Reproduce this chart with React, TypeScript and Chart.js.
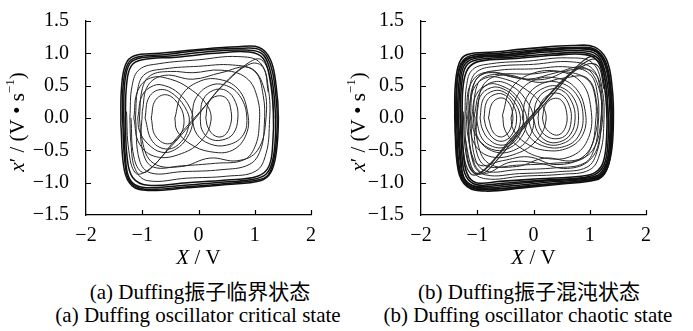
import React, { useEffect, useRef } from 'react';
import { Chart, registerables } from 'chart.js';

Chart.register(...registerables);

type Pt = [number, number];

// ---- axis ticks ----
const xTickValues = [-2, -1, 0, 1, 2];
const xTickLabels = ['\u22122', '\u22121', '0', '1', '2'];
const yTickValues = [-1.5, -1.0, -0.5, 0, 0.5, 1.0, 1.5];
const yTickLabels = ['\u22121.5', '\u22121.0', '\u22120.5', '0.0', '0.5', '1.0', '1.5'];

// ---- (a) critical state: trajectory pieces ----
const criticalOuterBand: Pt[][] = [
  [[-1.38, -0.1], [-1.37, 0.45], [-1.3, 0.82], [-1.15, 0.96], [-0.7, 1.0], [0.0, 1.06], [0.7, 1.1], [1.08, 1.09], [1.28, 0.9], [1.38, 0.5], [1.42, 0.0], [1.38, -0.55], [1.28, -0.85], [1.1, -0.97], [0.5, -1.03], [-0.2, -1.08], [-0.9, -1.12], [-1.18, -1.05], [-1.32, -0.8], [-1.38, -0.1]],
  [[-1.35, 0.0], [-1.34, 0.5], [-1.26, 0.83], [-1.1, 0.94], [-0.6, 0.98], [0.1, 1.05], [0.8, 1.08], [1.1, 1.05], [1.27, 0.85], [1.37, 0.4], [1.4, -0.1], [1.35, -0.6], [1.24, -0.88], [1.05, -0.96], [0.4, -1.02], [-0.3, -1.07], [-0.95, -1.1], [-1.2, -1.0], [-1.3, -0.75], [-1.35, 0.0]],
  [[-1.33, 0.05], [-1.31, 0.55], [-1.22, 0.84], [-1.02, 0.93], [-0.5, 0.96], [0.2, 1.03], [0.85, 1.05], [1.12, 1.0], [1.26, 0.78], [1.35, 0.3], [1.37, -0.2], [1.32, -0.65], [1.2, -0.87], [0.95, -0.95], [0.3, -1.0], [-0.4, -1.05], [-1.0, -1.07], [-1.22, -0.95], [-1.3, -0.6], [-1.33, 0.05]],
  [[-1.3, 0.0], [-1.28, 0.5], [-1.2, 0.8], [-1.0, 0.9], [-0.4, 0.94], [0.3, 1.0], [0.9, 1.02], [1.15, 0.92], [1.27, 0.6], [1.33, 0.1], [1.32, -0.4], [1.25, -0.75], [1.05, -0.9], [0.5, -0.96], [-0.2, -1.0], [-0.9, -1.04], [-1.17, -0.92], [-1.27, -0.6], [-1.3, 0.0]],
];

const criticalMiddleLoops: Pt[][] = [
  [[-1.22, 0.0], [-1.18, 0.5], [-1.05, 0.75], [-0.7, 0.84], [0.0, 0.9], [0.7, 0.95], [1.1, 0.85], [1.25, 0.4], [1.26, -0.1], [1.2, -0.55], [1.02, -0.82], [0.5, -0.9], [-0.2, -0.93], [-0.9, -0.97], [-1.12, -0.8], [-1.2, -0.4], [-1.22, 0.0]],
  [[-1.12, 0.0], [-1.08, 0.45], [-0.95, 0.68], [-0.6, 0.76], [0.0, 0.8], [0.6, 0.82], [1.0, 0.72], [1.15, 0.35], [1.17, -0.1], [1.1, -0.5], [0.9, -0.72], [0.4, -0.8], [-0.3, -0.83], [-0.85, -0.85], [-1.05, -0.65], [-1.12, 0.0]],
  [[-1.05, 0.0], [-1.0, 0.45], [-0.85, 0.66], [-0.5, 0.72], [-0.1, 0.7], [0.4, 0.74], [0.85, 0.62], [1.05, 0.3], [1.08, -0.1], [1.0, -0.45], [0.8, -0.65], [0.3, -0.7], [-0.3, -0.74], [-0.8, -0.76], [-0.98, -0.55], [-1.05, 0.0]],
  [[-1.0, 0.1], [-0.9, 0.5], [-0.6, 0.66], [-0.1, 0.6], [0.4, 0.7], [0.9, 0.78], [1.15, 0.5], [1.2, 0.0], [1.05, -0.5], [0.7, -0.66], [0.2, -0.62], [-0.3, -0.75], [-0.8, -0.7], [-1.0, -0.35], [-1.0, 0.1]],
];

const criticalDiagonals: Pt[][] = [
  [[-1.28, 0.1], [-1.24, -0.5], [-1.12, -0.85], [-0.92, -0.82], [-0.55, -0.5], [-0.05, 0.0], [0.42, 0.5], [0.9, 0.86], [1.12, 0.9], [1.28, 0.6], [1.34, 0.0]],
  [[-1.2, 0.0], [-1.15, -0.6], [-1.0, -0.84], [-0.8, -0.74], [-0.4, -0.32], [0.05, 0.12], [0.5, 0.56], [0.93, 0.84], [1.15, 0.78], [1.24, 0.4]],
];

const criticalLeftWell: Pt[][] = [
  [[-1.08, 0.0], [-1.0, 0.35], [-0.8, 0.5], [-0.6, 0.5], [-0.35, 0.38], [-0.15, 0.15], [-0.1, -0.05], [-0.2, -0.3], [-0.4, -0.48], [-0.65, -0.53], [-0.9, -0.4], [-1.05, -0.2], [-1.08, 0.0]],
  [[-0.95, 0.0], [-0.88, 0.32], [-0.67, 0.44], [-0.42, 0.35], [-0.2, 0.1], [-0.17, -0.1], [-0.3, -0.36], [-0.55, -0.48], [-0.82, -0.36], [-0.95, 0.0]],
  [[-0.84, 0.0], [-0.77, 0.27], [-0.58, 0.36], [-0.38, 0.24], [-0.26, 0.0], [-0.33, -0.27], [-0.55, -0.4], [-0.77, -0.27], [-0.84, 0.0]],
  [[-1.15, 0.0], [-1.08, 0.42], [-0.85, 0.62], [-0.5, 0.6], [-0.15, 0.45], [0.15, 0.2], [0.22, -0.05], [0.05, -0.35], [-0.3, -0.55], [-0.75, -0.6], [-1.05, -0.4], [-1.15, 0.0]],
];

const criticalRightWell: Pt[][] = [
  [[-0.42, 0.0], [-0.3, 0.35], [0.0, 0.56], [0.35, 0.6], [0.7, 0.45], [0.87, 0.1], [0.85, -0.25], [0.6, -0.5], [0.2, -0.52], [-0.15, -0.4], [-0.38, -0.2], [-0.42, 0.0]],
  [[-0.12, 0.0], [-0.05, 0.3], [0.2, 0.5], [0.5, 0.5], [0.75, 0.32], [0.86, 0.0], [0.78, -0.28], [0.5, -0.42], [0.2, -0.4], [-0.03, -0.25], [-0.12, 0.0]],
  [[0.03, 0.0], [0.08, 0.28], [0.27, 0.43], [0.5, 0.42], [0.66, 0.24], [0.7, 0.0], [0.62, -0.24], [0.42, -0.34], [0.2, -0.32], [0.06, -0.18], [0.03, 0.0]],
  [[0.13, 0.0], [0.18, 0.24], [0.33, 0.34], [0.5, 0.3], [0.58, 0.1], [0.57, -0.1], [0.46, -0.27], [0.3, -0.28], [0.17, -0.15], [0.13, 0.0]],
];

// ---- (b) chaotic state ----
const chaoticOuterBand: Pt[][] = [
  [[-1.4, 0.0], [-1.39, 0.5], [-1.32, 0.85], [-1.18, 0.98], [-0.7, 1.02], [0.0, 1.08], [0.7, 1.12], [1.08, 1.1], [1.3, 0.9], [1.4, 0.45], [1.42, -0.05], [1.38, -0.55], [1.27, -0.85], [1.1, -0.96], [0.5, -1.02], [-0.2, -1.08], [-0.85, -1.13], [-1.18, -1.06], [-1.34, -0.8], [-1.4, 0.0]],
  [[-1.37, 0.05], [-1.36, 0.55], [-1.29, 0.84], [-1.13, 0.96], [-0.6, 1.0], [0.1, 1.06], [0.75, 1.09], [1.1, 1.06], [1.29, 0.85], [1.38, 0.4], [1.4, -0.1], [1.36, -0.6], [1.25, -0.87], [1.05, -0.95], [0.4, -1.01], [-0.3, -1.07], [-0.9, -1.1], [-1.18, -1.02], [-1.32, -0.75], [-1.37, 0.05]],
  [[-1.35, 0.0], [-1.33, 0.5], [-1.26, 0.82], [-1.08, 0.94], [-0.5, 0.98], [0.2, 1.04], [0.8, 1.07], [1.12, 1.02], [1.28, 0.8], [1.36, 0.35], [1.38, -0.15], [1.33, -0.62], [1.22, -0.86], [1.0, -0.94], [0.3, -0.99], [-0.4, -1.05], [-0.95, -1.08], [-1.2, -0.98], [-1.3, -0.7], [-1.35, 0.0]],
  [[-1.33, -0.05], [-1.31, 0.45], [-1.24, 0.8], [-1.05, 0.92], [-0.45, 0.96], [0.25, 1.02], [0.85, 1.04], [1.14, 0.97], [1.27, 0.72], [1.35, 0.25], [1.36, -0.2], [1.31, -0.65], [1.18, -0.86], [0.95, -0.93], [0.25, -0.97], [-0.5, -1.03], [-1.0, -1.06], [-1.22, -0.95], [-1.29, -0.65], [-1.33, -0.05]],
  [[-1.3, 0.0], [-1.28, 0.5], [-1.2, 0.8], [-1.0, 0.9], [-0.4, 0.94], [0.3, 0.99], [0.9, 1.01], [1.15, 0.92], [1.26, 0.65], [1.32, 0.2], [1.33, -0.25], [1.28, -0.66], [1.14, -0.85], [0.9, -0.92], [0.2, -0.96], [-0.55, -1.01], [-1.02, -1.03], [-1.2, -0.9], [-1.27, -0.6], [-1.3, 0.0]],
  [[-1.27, 0.05], [-1.25, 0.5], [-1.16, 0.77], [-0.95, 0.88], [-0.3, 0.92], [0.35, 0.97], [0.92, 0.98], [1.14, 0.88], [1.24, 0.6], [1.3, 0.15], [1.3, -0.3], [1.24, -0.68], [1.1, -0.84], [0.85, -0.9], [0.1, -0.94], [-0.6, -0.98], [-1.02, -1.0], [-1.18, -0.86], [-1.25, -0.5], [-1.27, 0.05]],
  [[-1.39, -0.2], [-1.37, 0.4], [-1.3, 0.8], [-1.14, 0.93], [-0.55, 0.97], [0.15, 1.05], [0.9, 1.08], [1.16, 1.0], [1.32, 0.7], [1.39, 0.2], [1.38, -0.35], [1.3, -0.75], [1.16, -0.92], [0.7, -0.99], [0.0, -1.04], [-0.7, -1.1], [-1.1, -1.08], [-1.3, -0.88], [-1.39, -0.2]],
];

const chaoticMiddleLoops: Pt[][] = [
  [[-1.22, 0.0], [-1.19, 0.5], [-1.08, 0.75], [-0.75, 0.84], [-0.1, 0.88], [0.6, 0.93], [1.05, 0.85], [1.22, 0.45], [1.25, -0.1], [1.18, -0.55], [1.0, -0.8], [0.5, -0.87], [-0.2, -0.9], [-0.85, -0.94], [-1.1, -0.8], [-1.2, -0.4], [-1.22, 0.0]],
  [[-1.17, 0.0], [-1.13, 0.5], [-1.0, 0.72], [-0.65, 0.8], [0.0, 0.83], [0.65, 0.87], [1.05, 0.76], [1.19, 0.4], [1.2, -0.1], [1.13, -0.52], [0.95, -0.76], [0.45, -0.83], [-0.25, -0.86], [-0.85, -0.88], [-1.07, -0.7], [-1.17, 0.0]],
  [[-1.12, 0.0], [-1.08, 0.45], [-0.95, 0.66], [-0.6, 0.74], [0.0, 0.76], [0.6, 0.79], [1.0, 0.68], [1.14, 0.35], [1.15, -0.1], [1.08, -0.48], [0.9, -0.7], [0.4, -0.77], [-0.3, -0.8], [-0.85, -0.82], [-1.04, -0.62], [-1.12, 0.0]],
  [[-1.07, 0.0], [-1.03, 0.42], [-0.9, 0.62], [-0.55, 0.68], [-0.05, 0.68], [0.5, 0.72], [0.95, 0.6], [1.1, 0.3], [1.1, -0.1], [1.03, -0.44], [0.85, -0.64], [0.35, -0.7], [-0.3, -0.73], [-0.82, -0.75], [-1.0, -0.56], [-1.07, 0.0]],
  [[-1.15, 0.1], [-1.05, 0.55], [-0.8, 0.7], [-0.3, 0.62], [0.2, 0.6], [0.7, 0.75], [1.08, 0.7], [1.22, 0.3], [1.18, -0.3], [1.0, -0.65], [0.6, -0.78], [0.1, -0.7], [-0.4, -0.68], [-0.9, -0.85], [-1.12, -0.5], [-1.15, 0.1]],
  [[-1.2, 0.1], [-1.12, 0.52], [-0.88, 0.7], [-0.4, 0.66], [0.1, 0.55], [0.55, 0.62], [0.95, 0.62], [1.12, 0.25], [1.1, -0.25], [0.88, -0.6], [0.4, -0.72], [-0.1, -0.6], [-0.55, -0.66], [-0.98, -0.72], [-1.15, -0.35], [-1.2, 0.1]],
  [[-1.0, 0.1], [-0.9, 0.5], [-0.6, 0.66], [-0.1, 0.6], [0.4, 0.7], [0.9, 0.78], [1.15, 0.5], [1.2, 0.0], [1.05, -0.5], [0.7, -0.66], [0.2, -0.62], [-0.3, -0.75], [-0.8, -0.7], [-1.0, -0.35], [-1.0, 0.1]],
];

const chaoticDiagonals: Pt[][] = [
  [[-1.3, 0.2], [-1.25, -0.5], [-1.12, -0.86], [-0.92, -0.84], [-0.55, -0.5], [-0.05, 0.0], [0.42, 0.5], [0.9, 0.85], [1.12, 0.9], [1.27, 0.6], [1.33, 0.0]],
  [[-1.25, 0.1], [-1.2, -0.55], [-1.06, -0.85], [-0.84, -0.77], [-0.42, -0.34], [0.05, 0.12], [0.5, 0.55], [0.92, 0.82], [1.15, 0.8], [1.25, 0.45]],
  [[-1.22, -0.3], [-1.08, -0.8], [-0.9, -0.86], [-0.6, -0.6], [-0.12, -0.1], [0.38, 0.4], [0.85, 0.86], [1.1, 0.95], [1.28, 0.7]],
];

const chaoticLeftWell: Pt[][] = [
  [[-1.1, 0.0], [-1.02, 0.36], [-0.8, 0.52], [-0.58, 0.5], [-0.32, 0.36], [-0.16, 0.12], [-0.12, -0.08], [-0.22, -0.3], [-0.42, -0.46], [-0.67, -0.5], [-0.93, -0.38], [-1.07, -0.18], [-1.1, 0.0]],
  [[-1.02, 0.0], [-0.95, 0.33], [-0.75, 0.47], [-0.54, 0.45], [-0.33, 0.31], [-0.19, 0.08], [-0.19, -0.11], [-0.3, -0.33], [-0.5, -0.45], [-0.73, -0.44], [-0.92, -0.31], [-1.02, 0.0]],
  [[-0.95, 0.0], [-0.89, 0.3], [-0.71, 0.42], [-0.52, 0.4], [-0.35, 0.26], [-0.24, 0.05], [-0.26, -0.16], [-0.39, -0.36], [-0.58, -0.42], [-0.78, -0.34], [-0.91, -0.17], [-0.95, 0.0]],
  [[-0.88, 0.0], [-0.83, 0.26], [-0.67, 0.37], [-0.5, 0.35], [-0.36, 0.2], [-0.3, 0.0], [-0.36, -0.22], [-0.51, -0.35], [-0.69, -0.33], [-0.83, -0.17], [-0.88, 0.0]],
  [[-0.8, 0.0], [-0.74, 0.22], [-0.6, 0.31], [-0.46, 0.26], [-0.37, 0.06], [-0.41, -0.17], [-0.55, -0.29], [-0.71, -0.23], [-0.8, 0.0]],
  [[-1.05, 0.05], [-0.95, 0.4], [-0.7, 0.56], [-0.4, 0.5], [-0.15, 0.3], [0.0, 0.0], [-0.08, -0.3], [-0.35, -0.5], [-0.7, -0.52], [-0.98, -0.32], [-1.05, 0.05]],
  [[-1.15, 0.0], [-1.08, 0.42], [-0.85, 0.62], [-0.5, 0.6], [-0.15, 0.45], [0.15, 0.2], [0.22, -0.05], [0.05, -0.35], [-0.3, -0.55], [-0.75, -0.6], [-1.05, -0.4], [-1.15, 0.0]],
];

const chaoticRightWell: Pt[][] = [
  [[-0.4, 0.0], [-0.28, 0.36], [0.0, 0.58], [0.4, 0.62], [0.75, 0.46], [0.92, 0.1], [0.88, -0.25], [0.62, -0.46], [0.2, -0.5], [-0.15, -0.38], [-0.36, -0.18], [-0.4, 0.0]],
  [[-0.2, 0.0], [-0.12, 0.32], [0.12, 0.52], [0.45, 0.55], [0.75, 0.38], [0.88, 0.05], [0.8, -0.28], [0.55, -0.44], [0.2, -0.44], [-0.08, -0.28], [-0.2, 0.0]],
  [[-0.1, 0.0], [-0.03, 0.3], [0.2, 0.47], [0.48, 0.48], [0.72, 0.3], [0.8, 0.0], [0.72, -0.26], [0.5, -0.4], [0.22, -0.4], [0.0, -0.24], [-0.1, 0.0]],
  [[0.0, 0.0], [0.06, 0.27], [0.25, 0.43], [0.5, 0.43], [0.68, 0.25], [0.74, 0.0], [0.66, -0.25], [0.46, -0.37], [0.24, -0.36], [0.07, -0.21], [0.0, 0.0]],
  [[0.08, 0.0], [0.13, 0.23], [0.3, 0.37], [0.5, 0.36], [0.64, 0.18], [0.67, -0.04], [0.59, -0.25], [0.42, -0.32], [0.23, -0.28], [0.11, -0.15], [0.08, 0.0]],
  [[0.16, 0.0], [0.21, 0.2], [0.35, 0.3], [0.5, 0.27], [0.59, 0.08], [0.57, -0.14], [0.45, -0.26], [0.3, -0.23], [0.19, -0.11], [0.16, 0.0]],
  [[-0.55, 0.05], [-0.4, 0.45], [-0.05, 0.68], [0.45, 0.72], [0.85, 0.55], [1.02, 0.15], [0.98, -0.3], [0.7, -0.58], [0.2, -0.62], [-0.25, -0.45], [-0.5, -0.2], [-0.55, 0.05]],
];

// ---- captions ----
const captionA = ['(a) Duffing振子临界状态', '(a) Duffing oscillator critical state'];
const captionB = ['(b) Duffing振子混沌状态', '(b) Duffing oscillator chaotic state'];

const CANVAS_SERIF = '"Liberation Serif", "Times New Roman", serif';
const HTML_SERIF = '"Liberation Serif", "Times New Roman", "Noto Sans CJK SC", serif';

type Run = { t: string; italic?: boolean; size?: number; dy?: number };

function drawRuns(ctx: CanvasRenderingContext2D, runs: Run[], cx: number, cy: number, base: number) {
  const fontOf = (r: Run) => `${r.italic ? 'italic ' : ''}${r.size ?? base}px ${CANVAS_SERIF}`;
  let total = 0;
  for (const r of runs) {
    ctx.font = fontOf(r);
    total += ctx.measureText(r.t).width;
  }
  let x = cx - total / 2;
  ctx.textBaseline = 'middle';
  ctx.textAlign = 'left';
  for (const r of runs) {
    ctx.font = fontOf(r);
    ctx.fillText(r.t, x, cy + (r.dy ?? 0));
    x += ctx.measureText(r.t).width;
  }
}

const decorPlugin = {
  id: 'decor',
  afterDraw(chart: any, _args: any, opts: any) {
    const { ctx, chartArea } = chart;
    const xs = chart.scales.x;
    const ys = chart.scales.y;
    ctx.save();
    ctx.strokeStyle = '#000';
    ctx.lineWidth = 1.2;
    ctx.beginPath();
    xTickValues.forEach((v) => {
      if (v === xTickValues[0]) return;
      const p = Math.round(xs.getPixelForValue(v)) + 0.5;
      ctx.moveTo(p, chartArea.bottom);
      ctx.lineTo(p, chartArea.bottom - 5);
    });
    yTickValues.forEach((v) => {
      if (v === yTickValues[0]) return;
      const p = Math.round(ys.getPixelForValue(v)) + 0.5;
      ctx.moveTo(chartArea.left, p);
      ctx.lineTo(chartArea.left + 5, p);
    });
    ctx.stroke();
    ctx.fillStyle = '#000';
    drawRuns(ctx, [{ t: 'X', italic: true }, { t: ' / V' }], (chartArea.left + chartArea.right) / 2, opts.xTitleY, 21);
    ctx.translate(opts.yTitleX, (chartArea.top + chartArea.bottom) / 2 + 4);
    ctx.rotate(-Math.PI / 2);
    drawRuns(
      ctx,
      [
        { t: 'x', italic: true },
        { t: '\u2032 / (V \u2022 s' },
        { t: '\u22121', size: 13, dy: -7 },
        { t: ')' },
      ],
      0,
      0,
      21
    );
    ctx.restore();
  },
};

function buildDatasets(groups: { loops: Pt[][]; width: number; color: string }[]) {
  const ds: any[] = [];
  groups.forEach((g) => {
    g.loops.forEach((loop) => {
      ds.push({
        data: loop.map(([x, y]) => ({ x, y })),
        showLine: true,
        pointRadius: 0,
        borderColor: g.color,
        borderWidth: g.width,
        tension: 0.4,
        fill: false,
      });
    });
  });
  return ds;
}

function PhaseChart(props: {
  width: number;
  height: number;
  yAxisWidth: number;
  padRight: number;
  yTitleX: number;
  groups: { loops: Pt[][]; width: number; color: string }[];
}) {
  const ref = useRef<HTMLCanvasElement | null>(null);
  useEffect(() => {
    if (!ref.current) return;
    const tickFont = { family: CANVAS_SERIF, size: 20 };
    const chart = new Chart(ref.current, {
      type: 'scatter',
      data: { datasets: buildDatasets(props.groups) },
      options: {
        animation: false,
        responsive: false,
        maintainAspectRatio: false,
        events: [],
        layout: { padding: { left: 0, right: props.padRight, top: 17, bottom: 0 } },
        plugins: {
          legend: { display: false },
          tooltip: { enabled: false },
          decor: { xTitleY: 258, yTitleX: props.yTitleX },
        } as any,
        scales: {
          x: {
            type: 'linear',
            min: -2,
            max: 2,
            afterBuildTicks: (s: any) => {
              s.ticks = xTickValues.map((v) => ({ value: v }));
            },
            afterFit: (s: any) => {
              s.height = props.height - 215;
            },
            grid: { display: false },
            border: { display: true, color: '#000', width: 1.3 },
            ticks: {
              color: '#000',
              font: tickFont,
              padding: 1,
              maxRotation: 0,
              autoSkip: false,
              callback: (v: any) => {
                const i = xTickValues.findIndex((t) => Math.abs(t - Number(v)) < 1e-6);
                return i >= 0 ? xTickLabels[i] : '';
              },
            },
          },
          y: {
            type: 'linear',
            min: -1.5,
            max: 1.5,
            afterBuildTicks: (s: any) => {
              s.ticks = yTickValues.map((v) => ({ value: v }));
            },
            afterFit: (s: any) => {
              s.width = props.yAxisWidth;
            },
            grid: { display: false },
            border: { display: true, color: '#000', width: 1.3 },
            ticks: {
              color: '#000',
              font: tickFont,
              padding: 9,
              autoSkip: false,
              callback: (v: any) => {
                const i = yTickValues.findIndex((t) => Math.abs(t - Number(v)) < 1e-6);
                return i >= 0 ? yTickLabels[i] : '';
              },
            },
          },
        },
      } as any,
      plugins: [decorPlugin],
    });
    return () => chart.destroy();
  }, []);
  return (
    <canvas
      ref={ref}
      width={props.width}
      height={props.height}
      style={{ width: props.width, height: props.height, display: 'block' }}
    />
  );
}

const captionStyle = (cx: number, cy: number): React.CSSProperties => ({
  position: 'absolute',
  left: cx - 200,
  width: 400,
  top: cy - 12,
  height: 24,
  lineHeight: '24px',
  textAlign: 'center',
  fontFamily: HTML_SERIF,
  fontSize: 21,
  color: '#000',
  whiteSpace: 'nowrap',
});

export default function App() {
  const lineColor = '#262626';
  return (
    <div style={{ position: 'absolute', left: 0, top: 0, width: 693, height: 331, background: '#fff', overflow: 'hidden' }}>
      <div style={{ position: 'absolute', left: 0, top: 0 }}>
        <PhaseChart
          width={340}
          height={270}
          yAxisWidth={86}
          padRight={29}
          yTitleX={18}
          groups={[
            { loops: criticalOuterBand, width: 1.5, color: '#111' },
            { loops: criticalMiddleLoops, width: 1.0, color: lineColor },
            { loops: criticalDiagonals, width: 1.0, color: lineColor },
            { loops: criticalLeftWell, width: 1.0, color: lineColor },
            { loops: criticalRightWell, width: 1.0, color: lineColor },
          ]}
        />
      </div>
      <div style={{ position: 'absolute', left: 340, top: 0 }}>
        <PhaseChart
          width={353}
          height={270}
          yAxisWidth={81}
          padRight={47}
          yTitleX={19}
          groups={[
            { loops: chaoticOuterBand, width: 1.6, color: '#111' },
            { loops: chaoticMiddleLoops, width: 1.0, color: lineColor },
            { loops: chaoticDiagonals, width: 1.1, color: lineColor },
            { loops: chaoticLeftWell, width: 1.0, color: lineColor },
            { loops: chaoticRightWell, width: 1.0, color: lineColor },
          ]}
        />
      </div>
      <div style={captionStyle(200, 292)}>{captionA[0]}</div>
      <div style={captionStyle(198, 315)}>{captionA[1]}</div>
      <div style={captionStyle(529, 292)}>{captionB[0]}</div>
      <div style={captionStyle(528, 315)}>{captionB[1]}</div>
    </div>
  );
}
